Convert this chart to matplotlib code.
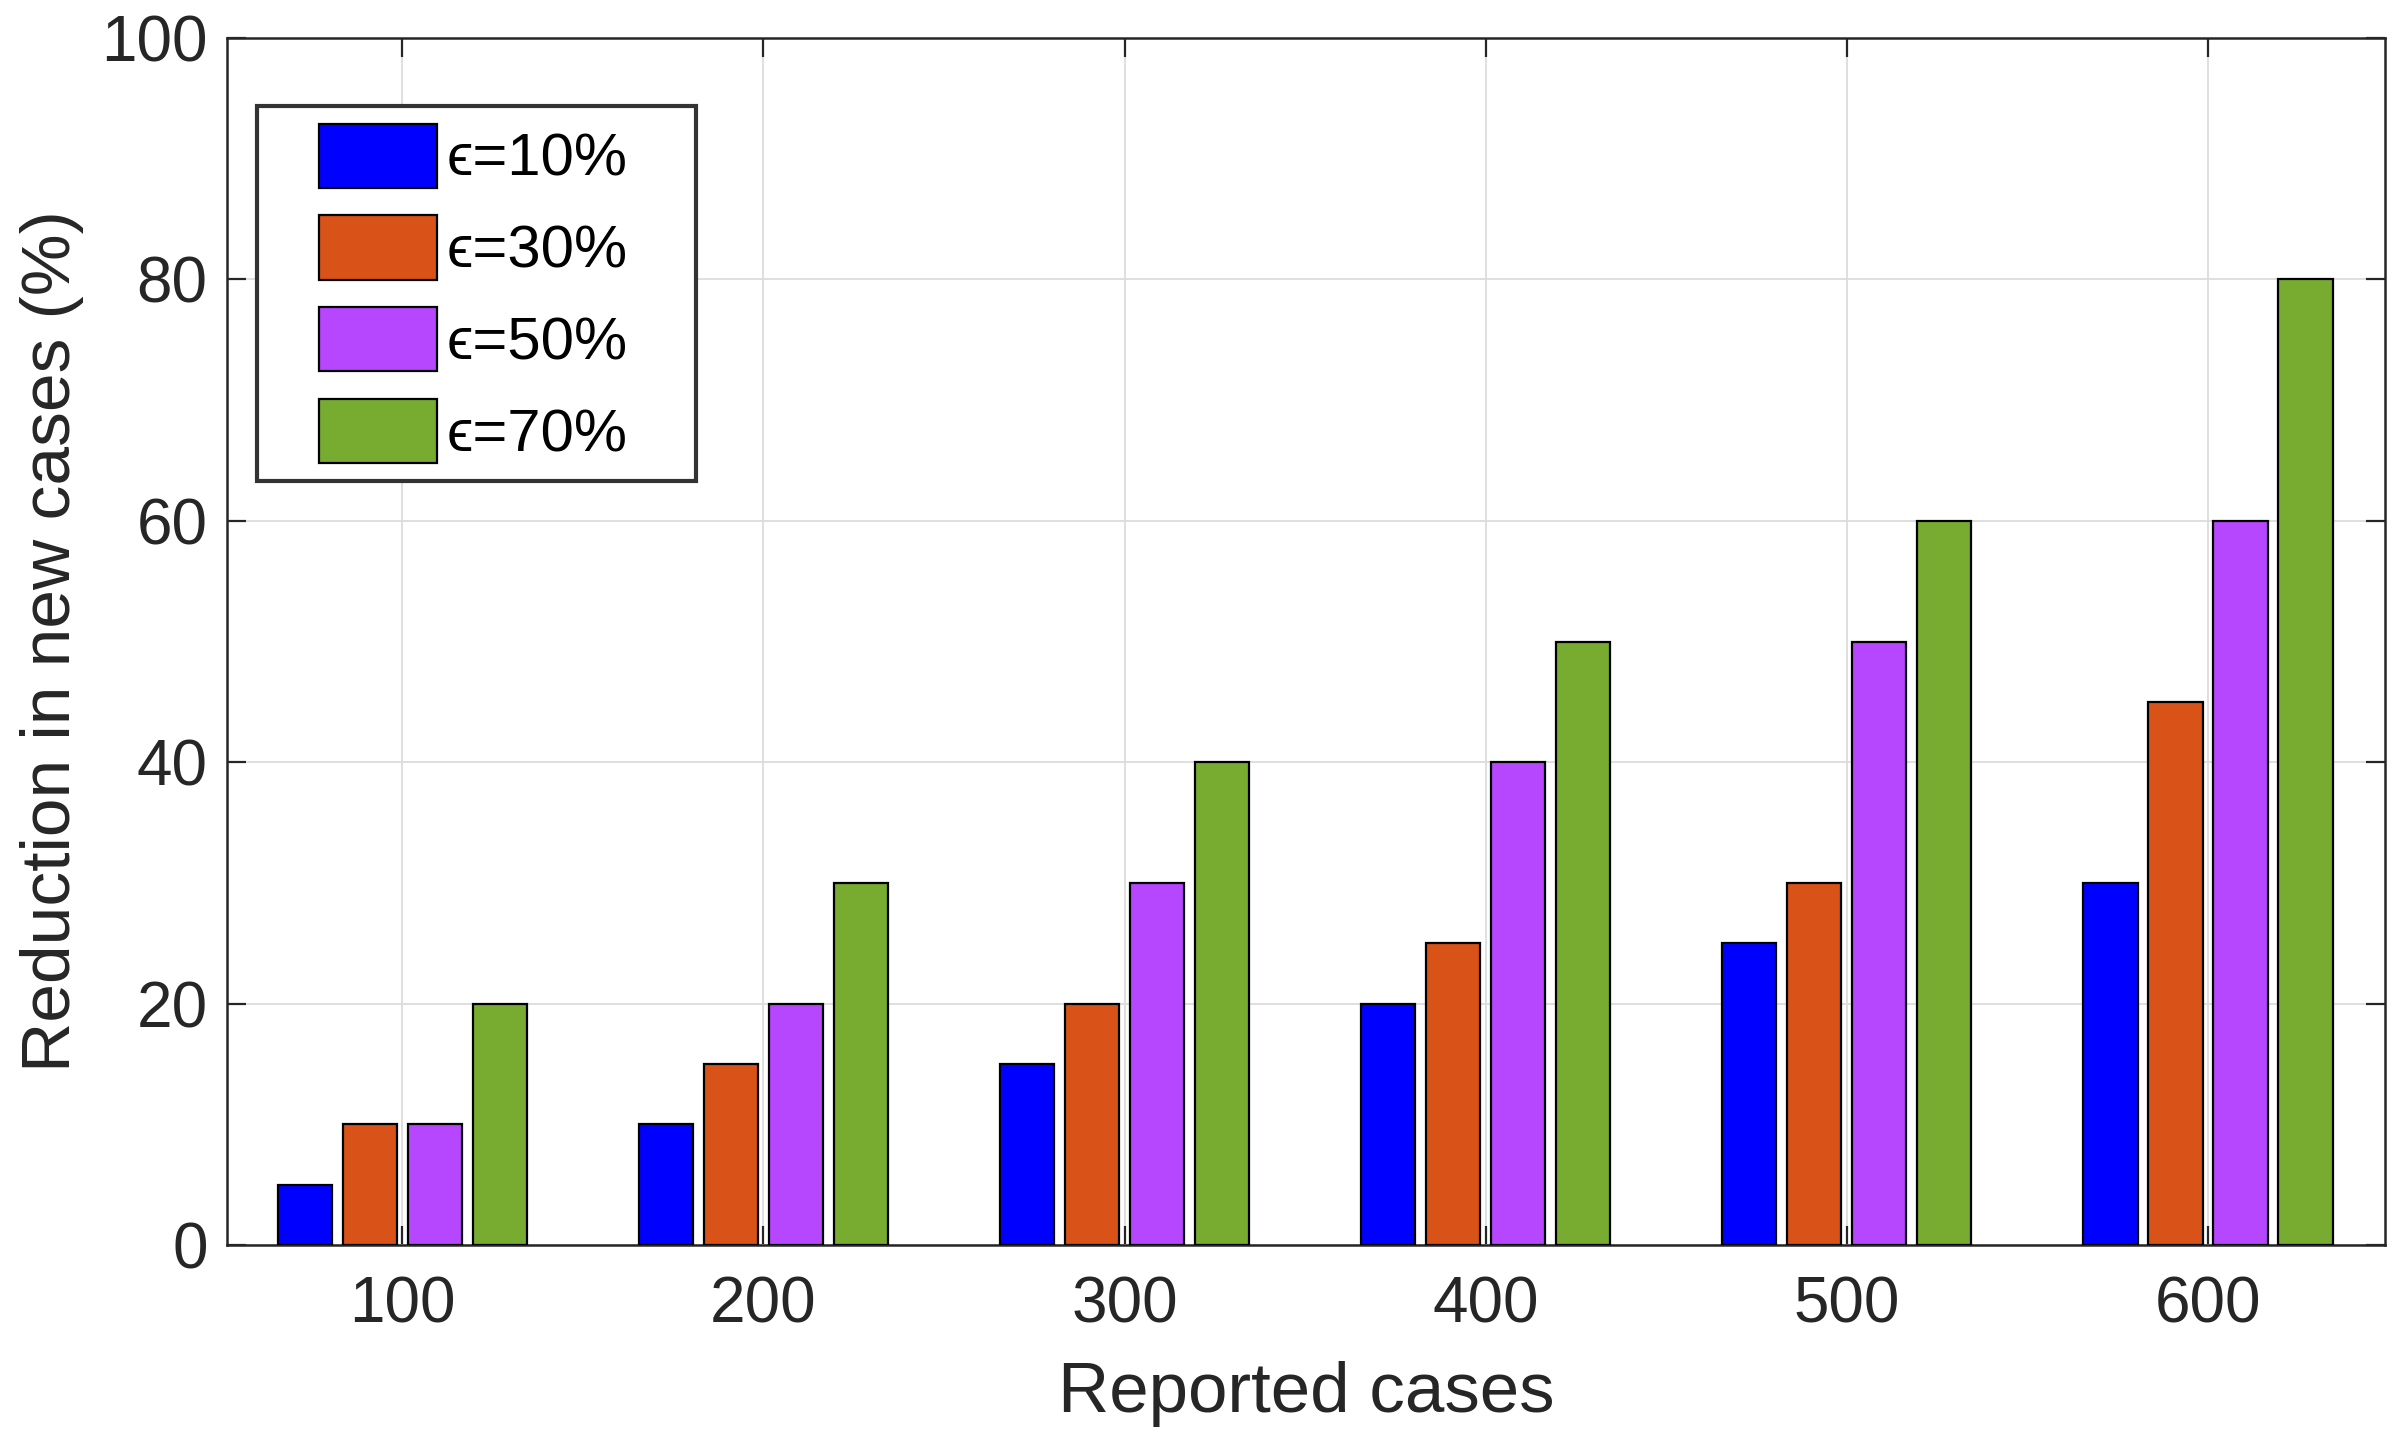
import numpy as np
import matplotlib
matplotlib.use('Agg')
import matplotlib.pyplot as plt
from matplotlib.patches import Rectangle
from matplotlib.container import BarContainer
from matplotlib.legend_handler import HandlerPatch, update_from_first_child

plt.rcParams['font.family'] = ['Liberation Sans', 'DejaVu Serif']

# data
reported = [100, 200, 300, 400, 500, 600]
eps_labels = ['ϵ=10%', 'ϵ=30%', 'ϵ=50%', 'ϵ=70%']
eps10 = [5, 10, 15, 20, 25, 30]
eps30 = [10, 15, 20, 25, 30, 45]
eps50 = [10, 20, 30, 40, 50, 60]
eps70 = [20, 30, 40, 50, 60, 80]
series = [eps10, eps30, eps50, eps70]
colors = ['#0000FF', '#D95319', '#B746FF', '#77AC30']

fig = plt.figure(figsize=(23.97, 14.4), dpi=100)
ax = fig.add_axes([0.0947, 0.1354, 0.9003, 0.8382])

x = np.array(reported, dtype=float)
offsets = [-27, -9, 9, 27]
bars = []
for i in range(4):
    b = ax.bar(x + offsets[i], series[i], width=15, color=colors[i],
               edgecolor='black', linewidth=1.6, label=eps_labels[i], zorder=3)
    bars.append(b)

ax.set_xlim(51.5, 649)
ax.set_ylim(0, 100)
ax.set_xticks(reported)
ax.set_yticks([0, 20, 40, 60, 80, 100])
ax.grid(True, color='#dcdcdc', linewidth=1.3, zorder=0)
ax.set_axisbelow(True)

for s in ax.spines.values():
    s.set_color('#262626')
    s.set_linewidth(1.8)
ax.tick_params(direction='in', length=14, width=1.6, colors='#262626',
               labelsize=46, top=True, right=True)
ax.tick_params(axis='y', pad=14)
ax.tick_params(axis='x', pad=22)
ax.set_xlabel('Reported cases', fontsize=51, color='#262626', labelpad=18)
ax.set_ylabel('Reduction in new cases (%)', fontsize=50, color='#262626', labelpad=12)


def shifted_patch(legend, orig_handle, xdescent, ydescent, width, height, fontsize):
    return Rectangle((-xdescent + width * 0.27, -ydescent), width * 0.73, height)


leg = ax.legend(loc='upper left', bbox_to_anchor=(0.0139, 0.0, 0.2035, 0.944),
                mode='expand', borderaxespad=0,
                fontsize=43, handlelength=2.72, handleheight=1.28, labelspacing=0.46,
                handletextpad=0.15, borderpad=0.3, fancybox=False, framealpha=1,
                handler_map={BarContainer: HandlerPatch(patch_func=shifted_patch,
                                                        update_func=update_from_first_child)})
leg.get_frame().set_edgecolor('#333333')
leg.get_frame().set_linewidth(3)
for t in leg.get_texts():
    t.set_color('black')

fig.savefig('out.png', dpi=100)
